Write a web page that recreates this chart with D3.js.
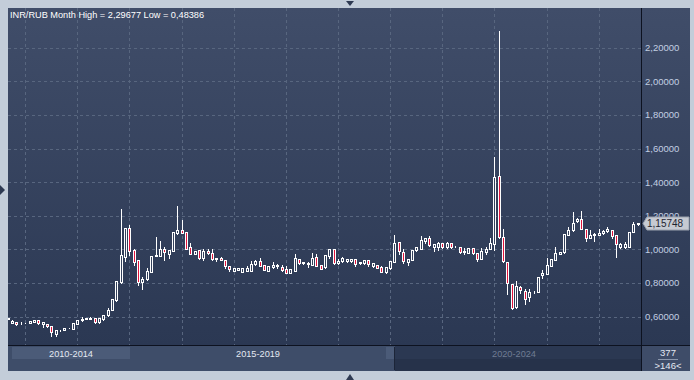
<!DOCTYPE html>
<html>
<head>
<meta charset="utf-8">
<script src="https://cdn.jsdelivr.net/npm/d3@7"></script>
<style>
  body { margin: 0; background: #c3cdd9; }
  svg { display: block; font-family: "Liberation Sans", Arial, sans-serif; }
</style>
</head>
<body>
<svg id="canvas" width="694" height="380"></svg>
<script>
// INR/RUB monthly candles, Oct 2012 .. Nov 2024
var firstMonth = new Date(2012, 9, 1);
var opens = [
  0.587, 0.563, 0.565, 0.559, 0.560, 0.560, 0.567, 0.577, 0.555, 0.553,
  0.543, 0.494, 0.517, 0.520, 0.530, 0.527, 0.557, 0.577, 0.587, 0.588,
  0.591, 0.565, 0.583, 0.611, 0.639, 0.696, 0.804, 0.956, 1.125, 0.996,
  0.935, 0.807, 0.821, 0.867, 0.963, 0.962, 1.000, 0.974, 0.992, 1.095,
  1.113, 1.101, 1.012, 0.974, 0.994, 0.946, 0.990, 0.980, 0.947, 0.950,
  0.936, 0.900, 0.870, 0.877, 0.867, 0.873, 0.873, 0.911, 0.930, 0.905,
  0.873, 0.896, 0.902, 0.896, 0.883, 0.861, 0.873, 0.940, 0.917, 0.913,
  0.908, 0.952, 0.905, 0.893, 0.962, 1.000, 0.917, 0.929, 0.929, 0.929,
  0.940, 0.917, 0.920, 0.935, 0.902, 0.905, 0.895, 0.865, 0.890, 0.926,
  1.042, 0.982, 0.926, 0.938, 0.994, 1.004, 1.051, 1.065, 1.012, 1.012,
  1.037, 1.012, 1.037, 1.016, 1.012, 0.984, 0.980, 1.006, 0.976, 0.944,
  0.984, 1.004, 1.033, 1.435, 1.071, 0.923, 0.792, 0.655, 0.777, 0.754,
  0.716, 0.745, 0.748, 0.847, 0.853, 0.902, 0.938, 0.974, 0.982, 1.087,
  1.113, 1.168, 1.180, 1.119, 1.069, 1.083, 1.085, 1.097, 1.111, 1.113,
  1.083, 1.015, 1.015, 1.015, 1.105, 1.149
];
var highs = [
  0.593, 0.577, 0.567, 0.566, 0.562, 0.572, 0.579, 0.579, 0.566, 0.555,
  0.545, 0.520, 0.520, 0.532, 0.533, 0.561, 0.578, 0.595, 0.592, 0.597,
  0.592, 0.592, 0.610, 0.649, 0.706, 0.812, 1.240, 1.127, 1.145, 1.002,
  0.937, 0.833, 0.887, 0.960, 1.073, 1.048, 1.014, 0.996, 1.105, 1.260,
  1.173, 1.103, 1.036, 0.992, 0.996, 1.000, 1.002, 1.000, 0.948, 0.952,
  0.938, 0.902, 0.891, 0.890, 0.891, 0.900, 0.930, 0.934, 0.946, 0.907,
  0.901, 0.923, 0.915, 0.905, 0.900, 0.885, 0.970, 0.942, 0.925, 0.927,
  0.976, 0.970, 0.907, 0.966, 1.002, 1.002, 0.940, 0.952, 0.944, 0.942,
  0.942, 0.925, 0.937, 0.937, 0.919, 0.907, 0.902, 0.895, 0.932, 1.085,
  1.044, 0.999, 0.942, 0.996, 1.014, 1.077, 1.067, 1.079, 1.032, 1.046,
  1.039, 1.046, 1.039, 1.018, 1.014, 1.006, 1.008, 1.008, 0.978, 1.010,
  1.014, 1.067, 1.550, 2.29677, 1.119, 0.925, 0.794, 0.811, 0.783, 0.764,
  0.764, 0.750, 0.835, 0.875, 0.946, 0.942, 1.012, 0.986, 1.091, 1.131,
  1.220, 1.188, 1.230, 1.121, 1.117, 1.099, 1.123, 1.117, 1.133, 1.115,
  1.085, 1.036, 1.046, 1.105, 1.164, 1.159
];
var lows = [
  0.585, 0.561, 0.551, 0.555, 0.559, 0.559, 0.566, 0.558, 0.539, 0.535,
  0.48386, 0.486, 0.516, 0.519, 0.529, 0.526, 0.556, 0.576, 0.586, 0.583,
  0.564, 0.564, 0.582, 0.605, 0.637, 0.694, 0.802, 0.932, 0.966, 0.906,
  0.788, 0.762, 0.819, 0.865, 0.962, 0.960, 0.938, 0.950, 0.990, 1.093,
  1.097, 1.002, 0.972, 0.972, 0.944, 0.935, 0.974, 0.938, 0.928, 0.934,
  0.890, 0.871, 0.868, 0.875, 0.865, 0.871, 0.871, 0.909, 0.900, 0.877,
  0.871, 0.887, 0.887, 0.870, 0.859, 0.859, 0.871, 0.911, 0.915, 0.893,
  0.906, 0.900, 0.883, 0.891, 0.946, 0.915, 0.915, 0.927, 0.927, 0.927,
  0.902, 0.915, 0.911, 0.902, 0.896, 0.888, 0.865, 0.857, 0.880, 0.924,
  0.970, 0.921, 0.905, 0.936, 0.992, 1.002, 1.036, 1.017, 0.992, 0.996,
  1.010, 1.010, 1.010, 1.012, 0.980, 0.970, 0.978, 0.974, 0.930, 0.942,
  0.972, 1.002, 0.996, 1.069, 0.927, 0.732, 0.645, 0.651, 0.740, 0.673,
  0.692, 0.740, 0.746, 0.827, 0.851, 0.900, 0.936, 0.972, 0.980, 1.085,
  1.111, 1.160, 1.119, 1.049, 1.067, 1.051, 1.083, 1.089, 1.105, 1.069,
  0.954, 1.009, 1.005, 1.013, 1.103, 1.147
];
var closes = [
  0.590, 0.575, 0.553, 0.561, 0.561, 0.571, 0.577, 0.560, 0.565, 0.543,
  0.506, 0.518, 0.519, 0.531, 0.532, 0.560, 0.577, 0.587, 0.591, 0.590,
  0.565, 0.591, 0.609, 0.638, 0.704, 0.810, 0.966, 1.125, 0.992, 0.926,
  0.807, 0.823, 0.871, 0.958, 0.965, 1.000, 0.982, 0.994, 1.103, 1.113,
  1.099, 1.004, 0.974, 0.990, 0.946, 0.990, 0.976, 0.940, 0.945, 0.936,
  0.902, 0.885, 0.889, 0.888, 0.889, 0.889, 0.912, 0.932, 0.902, 0.879,
  0.899, 0.905, 0.906, 0.877, 0.861, 0.883, 0.946, 0.920, 0.923, 0.917,
  0.946, 0.902, 0.885, 0.964, 1.000, 0.917, 0.930, 0.950, 0.942, 0.940,
  0.914, 0.923, 0.935, 0.914, 0.917, 0.890, 0.867, 0.893, 0.930, 1.037,
  0.988, 0.930, 0.940, 0.994, 1.012, 1.054, 1.065, 1.027, 1.030, 1.040,
  1.012, 1.040, 1.012, 1.014, 0.982, 0.987, 1.006, 0.976, 0.944, 0.990,
  1.004, 1.036, 1.429, 1.071, 0.929, 0.798, 0.649, 0.782, 0.758, 0.706,
  0.746, 0.743, 0.833, 0.861, 0.907, 0.940, 0.976, 0.984, 1.089, 1.117,
  1.158, 1.180, 1.121, 1.069, 1.083, 1.091, 1.095, 1.109, 1.121, 1.077,
  1.030, 1.030, 1.030, 1.103, 1.149, 1.15748
];
var yTicks = [0.6, 0.8, 1.0, 1.2, 1.4, 1.6, 1.8, 2.0, 2.2];
var periods = ["2010-2014", "2015-2019", "2020-2024"];
var title = "INR/RUB Month High = 2,29677 Low = 0,48386";
var barCount = "377";
var visibleCount = ">146<";

var svg = d3.select(document.getElementById('canvas'));

var plotLeft = 8, plotRight = 641, plotTop = 8, plotBottom = 345;
var axisRightEdge = 690, barBottom = 371;

var months = opens.map(function(d, i) { return d3.timeMonth.offset(firstMonth, i); });
var candles = months.map(function(m, i) {
    return {date: m, open: opens[i], high: highs[i], low: lows[i], close: closes[i]};
});

var x = d3.scaleBand()
    .domain(months)
    .range([6.13, 640.47]);
var y = d3.scaleLinear()
    .domain([0.6, 2.2])
    .range([316.5, 47.7]);
var cx = function(d) { return Math.floor(x(d.date) + x.bandwidth() / 2); };
var fmt = function(v) { return d3.format(".5f")(v).replace('.', ','); };

// background gradient
var defs = svg.append('defs');
var grad = defs.append('linearGradient').attr('id', 'bg').attr('x1', 0).attr('x2', 0).attr('y1', 0).attr('y2', 1);
grad.append('stop').attr('offset', '0%').attr('stop-color', '#404d69');
grad.append('stop').attr('offset', '100%').attr('stop-color', '#2b3853');
defs.append('clipPath').attr('id', 'plotClip')
  .append('rect').attr('x', plotLeft).attr('y', plotTop)
    .attr('width', plotRight - plotLeft).attr('height', plotBottom - plotTop);

svg.append('rect')
    .attr('x', plotLeft).attr('y', plotTop)
    .attr('width', axisRightEdge - plotLeft).attr('height', plotBottom - plotTop)
    .attr('fill', 'url(#bg)');

// grid
var grid = svg.append('g').attr('stroke', '#58667f').attr('stroke-dasharray', '3,3');
grid.selectAll('line.h').data(yTicks).enter().append('line')
    .attr('class', 'h')
    .attr('x1', plotLeft).attr('x2', plotRight)
    .attr('y1', function(d) { return Math.round(y(d)) + 0.5; })
    .attr('y2', function(d) { return Math.round(y(d)) + 0.5; });
grid.selectAll('line.v').data(months.filter(function(m) { return m.getMonth() === 1; })).enter().append('line')
    .attr('class', 'v')
    .attr('y1', plotTop).attr('y2', plotBottom)
    .attr('x1', function(m) { return Math.floor(x(m) + x.bandwidth() / 2) + 0.5; })
    .attr('x2', function(m) { return Math.floor(x(m) + x.bandwidth() / 2) + 0.5; });

// candles
var plot = svg.append('g').attr('clip-path', 'url(#plotClip)');
var c = plot.selectAll('g.candle').data(candles).enter().append('g').attr('class', 'candle');
c.append('line')
    .attr('x1', function(d) { return cx(d) + 0.5; })
    .attr('x2', function(d) { return cx(d) + 0.5; })
    .attr('y1', function(d) { return Math.round(y(d.high)); })
    .attr('y2', function(d) { return Math.round(y(d.low)) + 1; })
    .attr('stroke', '#ffffff');
c.append('rect')
    .attr('x', function(d) { return cx(d) - 0.5; })
    .attr('y', function(d) { return Math.round(y(Math.max(d.open, d.close))) + 0.5; })
    .attr('width', 2)
    .attr('height', function(d) {
        return Math.max(0, Math.round(y(Math.min(d.open, d.close))) - Math.round(y(Math.max(d.open, d.close))));
    })
    .attr('fill', function(d) { return d.close < d.open ? '#e0143c' : '#34415c'; })
    .attr('stroke', '#ffffff');

// frame lines
svg.append('line').attr('x1', plotRight + 0.5).attr('x2', plotRight + 0.5)
    .attr('y1', plotTop).attr('y2', barBottom).attr('stroke', '#0d1220');
svg.append('line').attr('x1', plotLeft).attr('x2', axisRightEdge)
    .attr('y1', plotBottom + 0.5).attr('y2', plotBottom + 0.5).attr('stroke', '#0d1220');

// y axis
var yAxis = svg.append('g')
    .attr('transform', 'translate(' + (plotRight + 1) + ',0)')
    .call(d3.axisRight(y).tickValues(yTicks).tickSize(0).tickPadding(3).tickFormat(fmt));
yAxis.select('.domain').remove();
yAxis.selectAll('text').attr('fill', '#c3cee2').attr('font-size', '9.5px')
    .attr('font-family', '"Liberation Sans", Arial, sans-serif');

// last price tag
var last = candles[candles.length - 1];
var ly = Math.round(y(last.close));
svg.append('path')
    .attr('d', 'M' + (plotRight + 2) + ',' + (ly + 0.5) + 'L' + (plotRight + 6) + ',' + (ly - 6) +
        'H' + (axisRightEdge - 1) + 'V' + (ly + 7) + 'H' + (plotRight + 6) + 'Z')
    .attr('fill', '#c6cad2').attr('stroke', '#9aa1ad');
svg.append('text')
    .attr('x', plotRight + 6).attr('y', ly + 4)
    .attr('font-size', '10px').attr('fill', '#1e2430')
    .text(fmt(last.close).replace(/^(\d,\d{5}).*/, '$1'));

// title
svg.append('text')
    .attr('x', 10).attr('y', 18)
    .attr('font-size', '9.2px').attr('fill', '#ffffff')
    .text(title);

// bottom navigator
svg.append('rect').attr('x', plotLeft).attr('y', plotBottom + 1)
    .attr('width', plotRight - plotLeft).attr('height', barBottom - plotBottom - 1).attr('fill', '#3e4d69');
svg.append('rect').attr('x', 12).attr('y', plotBottom + 2)
    .attr('width', 118).attr('height', 12).attr('fill', '#4b5b78');
svg.append('rect').attr('x', 395).attr('y', plotBottom + 1)
    .attr('width', plotRight - 395).attr('height', barBottom - plotBottom - 1).attr('fill', '#26324a');
svg.append('rect').attr('x', 395).attr('y', plotBottom + 1)
    .attr('width', plotRight - 395).attr('height', 13).attr('fill', '#2b3852');
svg.append('rect').attr('x', 386).attr('y', plotBottom + 2)
    .attr('width', 9).attr('height', 12).attr('fill', '#4b5b78');
svg.append('line').attr('x1', 394.5).attr('x2', 394.5).attr('y1', plotBottom + 2).attr('y2', barBottom - 1)
    .attr('stroke', '#1c2538');
svg.selectAll('text.period').data(periods).enter().append('text')
    .attr('class', 'period')
    .attr('x', function(d, i) { return [71, 258, 514][i]; })
    .attr('y', 357)
    .attr('text-anchor', 'middle')
    .attr('font-size', '9.2px')
    .attr('fill', function(d, i) { return i === 2 ? '#6f7c93' : '#e4e9f2'; })
    .text(function(d) { return d; });

svg.append('rect').attr('x', plotRight + 1).attr('y', plotBottom + 1)
    .attr('width', axisRightEdge - plotRight - 1).attr('height', barBottom - plotBottom - 1).attr('fill', '#3e4c68');
svg.append('text').attr('x', 668).attr('y', 356).attr('text-anchor', 'middle')
    .attr('font-size', '9.5px').attr('fill', '#e4e9f2').text(barCount);
svg.append('line').attr('x1', 658).attr('x2', 678).attr('y1', 359.5).attr('y2', 359.5).attr('stroke', '#8c98ad');
svg.append('text').attr('x', 668).attr('y', 369).attr('text-anchor', 'middle')
    .attr('font-size', '9.5px').attr('fill', '#e4e9f2').text(visibleCount);

// little arrows on the frame
svg.append('path').attr('d', 'M346,1H354L350,6Z').attr('fill', '#2e3a52');
svg.append('path').attr('d', 'M346,380H354L350,374Z').attr('fill', '#2e3a52');
svg.append('path').attr('d', 'M0,185V195L5,190Z').attr('fill', '#2e3a52');
</script>
</body>
</html>
